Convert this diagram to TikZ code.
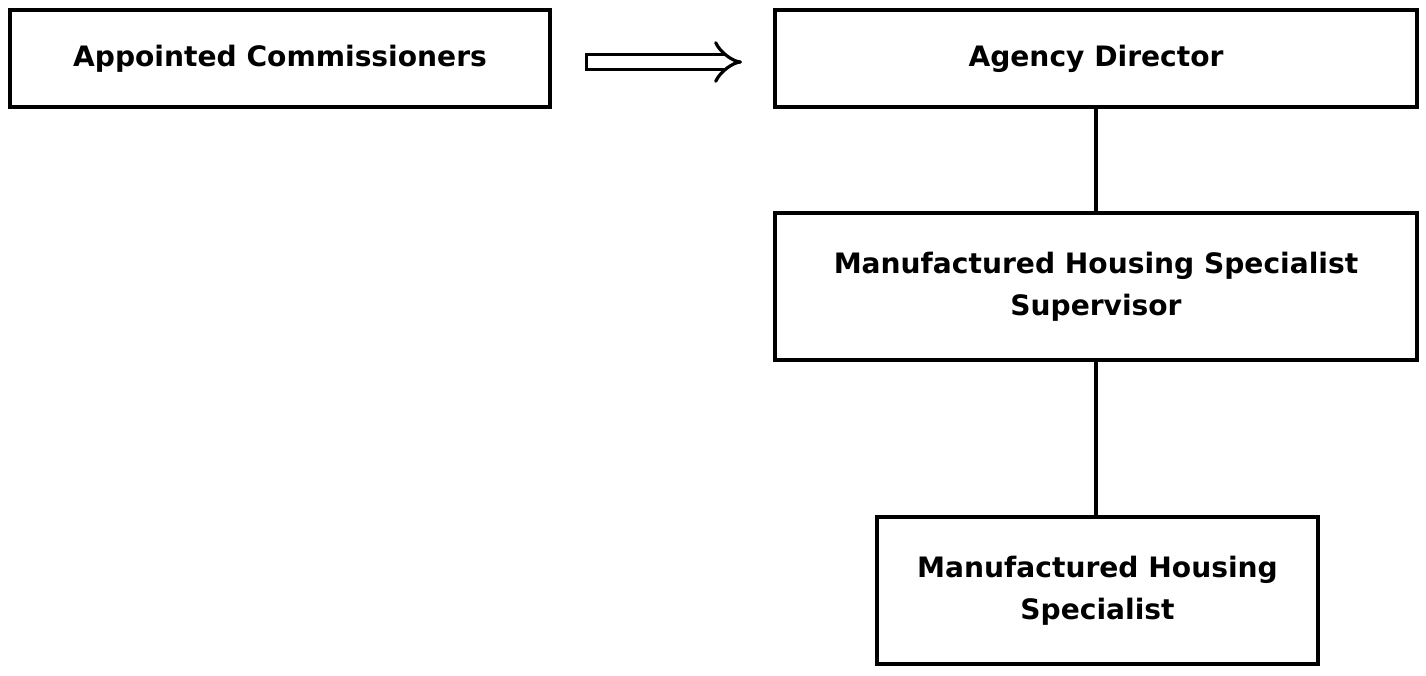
\documentclass[tikz,border=0pt]{standalone}
\usepackage{fontspec}
\setmainfont{DejaVu Sans}
\usetikzlibrary{arrows.meta}
\tikzstyle{nodoruolo} = [rectangle,minimum width=10.8cm,minimum height=1.94cm,text centered,align=center,draw=black,line width=2.2pt,fill=white,text=black]
\tikzstyle{nododoppio} = [nodoruolo,minimum width=12.84cm,minimum height=2.94cm]
\tikzstyle{linea} = [line width=2.2pt]
\tikzstyle{freccia} = [line width=1.8pt,double distance=6.5pt,{Bar[width=10.1pt,line width=1.8pt]}-{Implies[length=12pt,width=21pt]}]

\begin{document}
\begin{tikzpicture}[node distance=1cm]
\tikzstyle{every node}=[font=\bfseries\fontsize{16}{24}\selectfont]
\useasboundingbox (0,0) rectangle (28.52,-13.52);

\node (comm) [nodoruolo] at (5.6,-1.17) {Appointed Commissioners};
\node (dir)  [nodoruolo,minimum width=12.84cm,right of=comm,xshift=15.32cm] {Agency Director};
\node (sup)  [nododoppio,below of=dir,yshift=-3.56cm] {Manufactured Housing Specialist\\Supervisor};
\node (spec) [nododoppio,minimum width=8.82cm,below of=sup,xshift=0.03cm,yshift=-5.08cm] {Manufactured Housing\\Specialist};

\draw[freccia,shorten <=0.66cm,shorten >=0.62cm] ([yshift=-0.07cm]comm.east) -- ([yshift=-0.07cm]dir.west);

\draw[linea] (dir) -- (sup);
\draw[linea] (sup) -- (sup |- spec.north);
\end{tikzpicture}
\end{document}
